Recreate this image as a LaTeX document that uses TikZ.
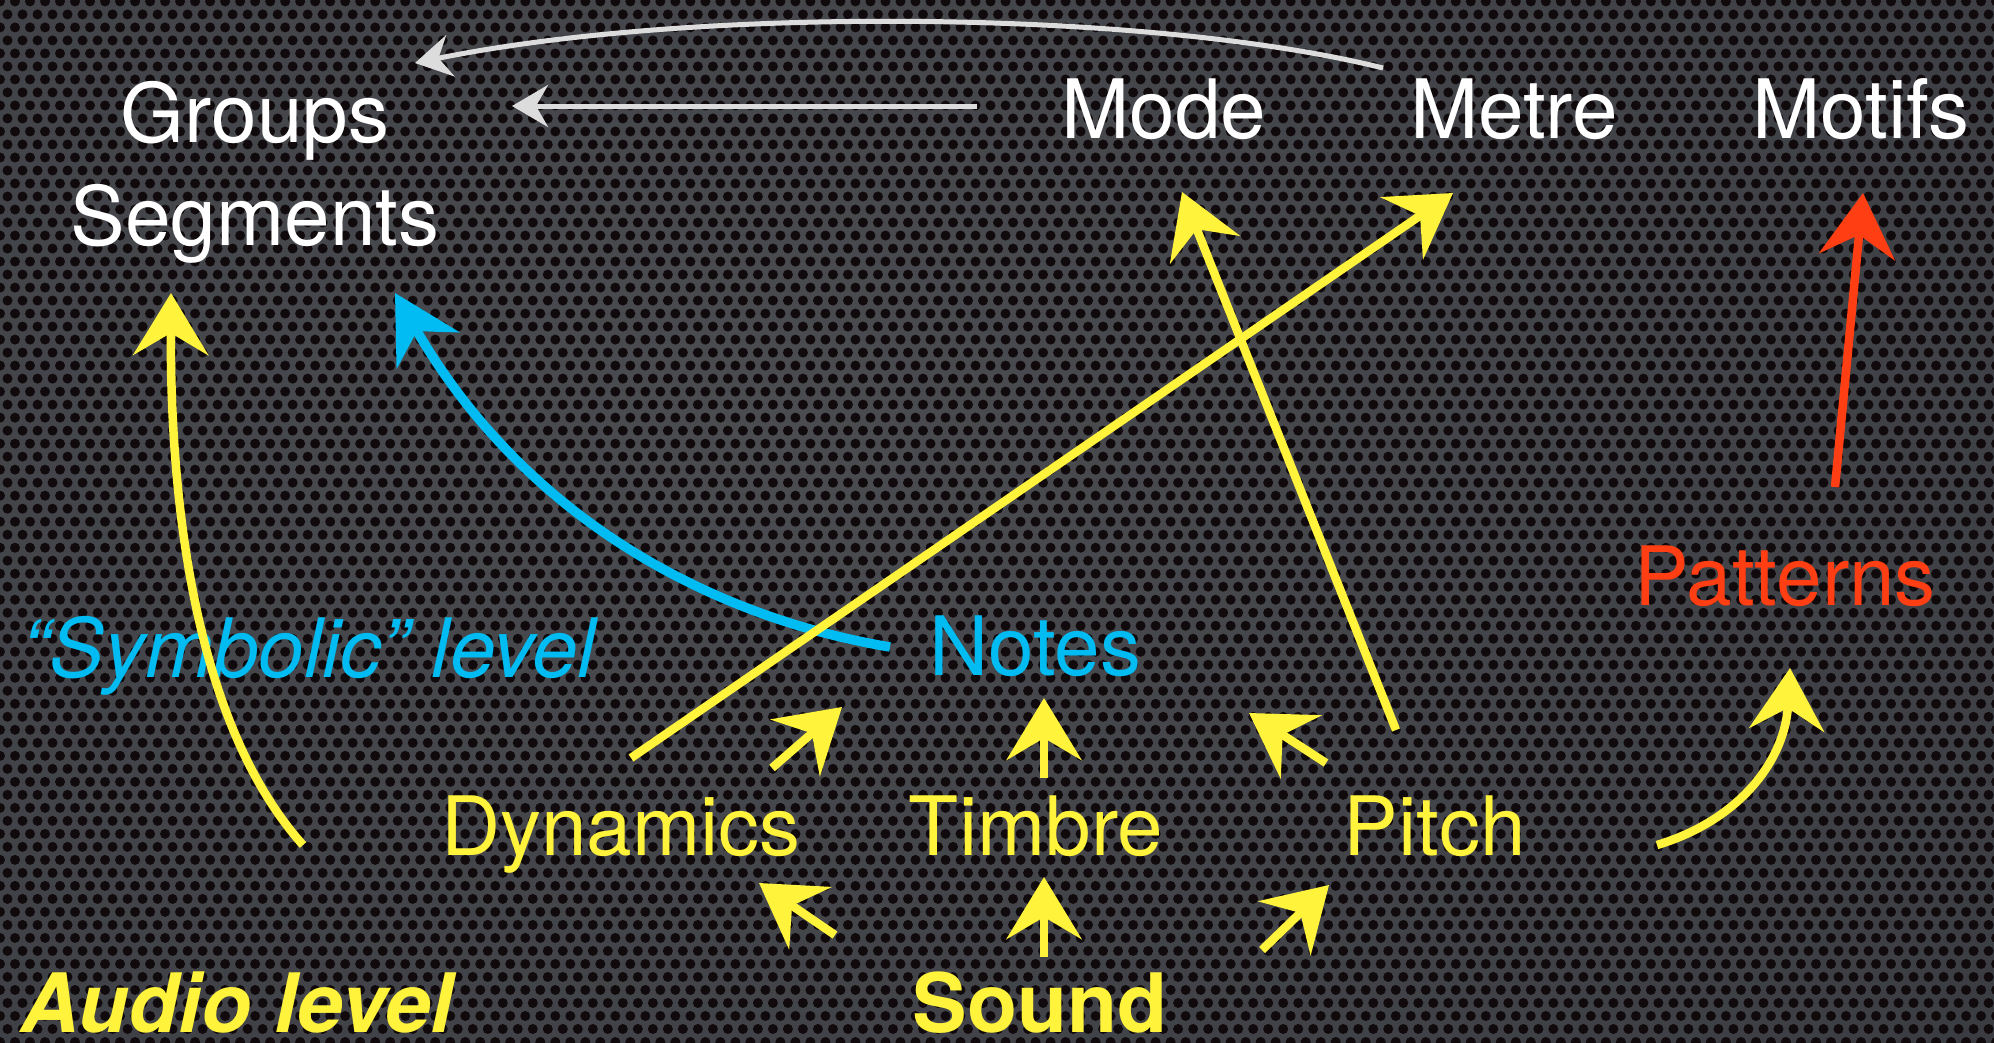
\documentclass[tikz,border=0pt]{standalone}
\usepackage{fontspec}
\setmainfont{TeX Gyre Heros}
\usetikzlibrary{arrows.meta,patterns}
\definecolor{chalkyellow}{HTML}{FFF33B}
\definecolor{chalkcyan}{HTML}{00BCF2}
\definecolor{chalkred}{HTML}{FF3E13}
\definecolor{chalkwhite}{HTML}{DCDCDC}
\definecolor{bgmid}{HTML}{4A4C50}
\definecolor{bgedge}{HTML}{14171F}
\definecolor{holecol}{HTML}{100A0C}
\newcommand{\lblfont}{\fontsize{23.3}{28}\selectfont}
\pgfdeclareradialshading{vignette}{\pgfpointorigin}{color(0bp)=(bgmid); color(22bp)=(bgmid!75!bgedge); color(38bp)=(bgmid!35!bgedge); color(50bp)=(bgedge)}
\pgfdeclarepatternformonly{holes}{\pgfpoint{-0.06cm}{-0.06cm}}{\pgfpoint{0.15cm}{0.26cm}}{\pgfpoint{0.15cm}{0.26cm}}{%
  \pgfpathcircle{\pgfpointorigin}{0.05cm}%
  \pgfpathcircle{\pgfpoint{0.075cm}{0.13cm}}{0.05cm}%
  \pgfusepath{fill}}

\begin{document}
\begin{tikzpicture}[x=0.01cm, y=-0.01cm,
                    lbl/.style={anchor=base, inner sep=0pt, font=\lblfont},
                    chalky/.style={draw=chalkyellow, line width=0.085cm, -{Stealth[length=0.62cm, width=0.75cm, inset=0.22cm]}},
                    chalkc/.style={draw=chalkcyan, line width=0.095cm, -{Stealth[length=0.66cm, width=0.72cm, inset=0.22cm]}},
                    chalkr/.style={draw=chalkred, line width=0.085cm, -{Stealth[length=0.64cm, width=0.76cm, inset=0.22cm]}},
                    chalkw/.style={draw=chalkwhite, line width=0.05cm, -{Stealth[length=0.36cm, width=0.42cm, inset=0.12cm]}}]
    \useasboundingbox (0,0) rectangle (1994,1042);
    % perforated metal background
    \begin{scope}
        \clip (0,0) rectangle (1994,1042);
        \fill[bgedge] (-20,-20) rectangle (2020,1070);
        \shade[shading=vignette] (760,420) ellipse [x radius=1600, y radius=1050];
        \fill[pattern=holes, pattern color=holecol] (-30,-30) rectangle (2030,1080);
    \end{scope}

    % upper level
    \node[lbl, text=white] (groups) at (255,142) {Groups};
    \node[lbl, text=white] (segments) at (255,245) {Segments};
    \node[lbl, text=white] (mode) at (1164,138) {Mode};
    \node[lbl, text=white] (metre) at (1514,138) {Metre};
    \node[lbl, text=white] (motifs) at (1861,138) {Motifs};

    % symbolic level
    \node[lbl, text=chalkcyan, font=\lblfont\itshape] (symbolic) at (309,677) {“Symbolic” level};
    \node[lbl, text=chalkcyan] (notes) at (1035,675) {Notes};
    \node[lbl, text=chalkred] (patterns) at (1785,605) {Patterns};

    % audio level
    \node[lbl, text=chalkyellow] (dynamics) at (621,855) {Dynamics};
    \node[lbl, text=chalkyellow] (timbre) at (1036,855) {Timbre};
    \node[lbl, text=chalkyellow] (pitch) at (1435,855) {Pitch};
    \node[lbl, text=chalkyellow, font=\lblfont\bfseries\itshape] (audio) at (237,1032) {Audio level};
    \node[lbl, text=chalkyellow, font=\lblfont\bfseries] (sound) at (1040,1032) {Sound};

    % arrow ends
    \coordinate (metreL) at (1383,68);
    \coordinate (groupsT) at (415,63);
    \coordinate (modeL) at (977,106);
    \coordinate (groupsR) at (512,106);
    \coordinate (audioT) at (303,845);
    \coordinate (segmentsB) at (171,293);
    \coordinate (notesL) at (890,647);
    \coordinate (segmentsR) at (395,293);
    \coordinate (dynamicsT) at (631,758);
    \coordinate (metreB) at (1453,193);
    \coordinate (pitchT) at (1396,730);
    \coordinate (modeB) at (1182,192);
    \coordinate (patternsT) at (1835,487);
    \coordinate (motifsB) at (1863,193);
    \coordinate (pitchR) at (1657,845);
    \coordinate (patternsB) at (1790,668);

    % links back to groups
    \draw[chalkw] (metreL) .. controls (1150,10) and (700,5) .. (groupsT);
    \draw[chalkw] (modeL) -- (groupsR);

    % long arrows
    \draw[chalky] (audioT) .. controls (200,730) and (170,520) .. (segmentsB);
    \draw[chalkc] (notesL) .. controls (700,615) and (520,510) .. (segmentsR);
    \draw[chalky] (dynamicsT) -- (metreB);
    \draw[chalky] (pitchT) -- (modeB);
    \draw[chalkr] (patternsT) -- (motifsB);
    \draw[chalky] (pitchR) .. controls (1740,820) and (1785,760) .. (patternsB);

    % short arrows between sound, features and notes
    \draw[chalky] (772,768) -- (842,707);
    \draw[chalky] (1044,778) -- (1044,698);
    \draw[chalky] (1326,763) -- (1249,713);
    \draw[chalky] (835,935) -- (759,883);
    \draw[chalky] (1044,957) -- (1044,877);
    \draw[chalky] (1262,950) -- (1329,885);
\end{tikzpicture}
\end{document}
